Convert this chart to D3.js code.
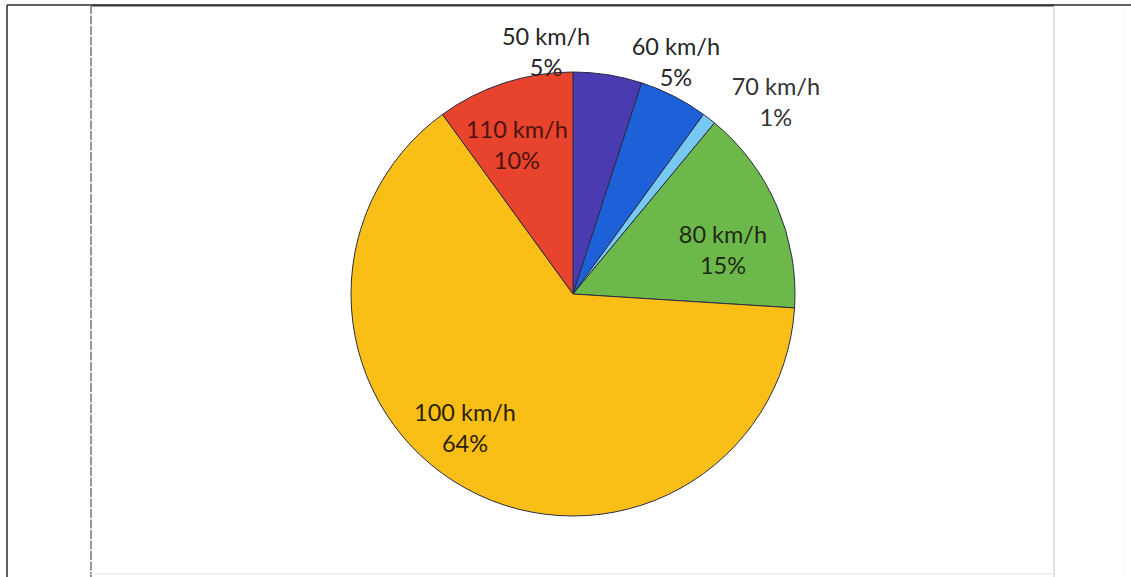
<!DOCTYPE html>
<html>
<head>
<meta charset="utf-8">
<script src="https://cdn.jsdelivr.net/npm/d3@7"></script>
<style>
  html, body { margin: 0; padding: 0; background: #fff; }
  svg { display: block; }
</style>
</head>
<body>
<svg id="chart" width="1131" height="577"></svg>
<script>
// Share of road length by speed limit
const categories = ["50 km/h", "60 km/h", "70 km/h", "80 km/h", "100 km/h", "110 km/h"];
const shares = [5, 5, 1, 15, 64, 10];
const percentLabels = ["5%", "5%", "1%", "15%", "64%", "10%"];
const sliceColors = ["#4b3bb0", "#1d60d7", "#78c8f4", "#6cb84a", "#f9bf17", "#e8432c"];
const labelColors = ["#262626", "#262626", "#333333", "#1f2a14", "#2a2208", "#4a1410"];

// label placement: angle shift from the slice middle (degrees) and radius as a fraction of the pie radius
const labelAngleShift = [-15.3, -3.3, 8.4, 6.2, 10.5, -2.4];
const labelRadiusFactor = [1.105, 1.153, 1.266, 0.707, 0.768, 0.725];

const svg = d3.select("#chart");
const W = 1131, H = 577;

// page frame
const frame = svg.append("g");
frame.append("line").attr("x1", 7).attr("y1", 5).attr("x2", W).attr("y2", 5)
  .attr("stroke", "#2b2b2b").attr("stroke-width", 1.5);
frame.append("line").attr("x1", 7).attr("y1", 5).attr("x2", 7).attr("y2", H)
  .attr("stroke", "#2b2b2b").attr("stroke-width", 1.5);

// chart area border
frame.append("line").attr("x1", 91).attr("y1", 5.5).attr("x2", 1054).attr("y2", 5.5)
  .attr("stroke", "#3a3a3a").attr("stroke-width", 2);
frame.append("line").attr("x1", 91).attr("y1", 5).attr("x2", 91).attr("y2", H)
  .attr("stroke", "#6f7482").attr("stroke-width", 1.5).attr("stroke-dasharray", "9,1.5");
frame.append("line").attr("x1", 1054).attr("y1", 6).attr("x2", 1054).attr("y2", H)
  .attr("stroke", "#d6d8de").attr("stroke-width", 1.5);
frame.append("line").attr("x1", 91).attr("y1", 574).attr("x2", 1054).attr("y2", 574)
  .attr("stroke", "#eeeeee").attr("stroke-width", 1.5);
frame.append("line").attr("x1", 1124).attr("y1", 6).attr("x2", 1124).attr("y2", H)
  .attr("stroke", "#f2f2f2").attr("stroke-width", 1);

const cx = 573, cy = 294, R = 222;

const pie = d3.pie().sort(null).value(d => d)(shares);
const arc = d3.arc().innerRadius(0).outerRadius(R);

const g = svg.append("g").attr("transform", `translate(${cx},${cy})`);

g.selectAll("path.slice")
  .data(pie)
  .join("path")
  .attr("class", "slice")
  .attr("d", arc)
  .attr("fill", (d, i) => sliceColors[i])
  .attr("stroke", "#2a2c45")
  .attr("stroke-width", 1)
  .attr("stroke-linejoin", "round");

// two-line labels: category and percentage
const labels = g.selectAll("text.lbl")
  .data(pie)
  .join("text")
  .attr("class", "lbl")
  .attr("text-anchor", "middle")
  .attr("font-family", "Lato, 'Open Sans', sans-serif")
  .attr("font-size", 23.5)
  .attr("fill", (d, i) => labelColors[i])
  .attr("transform", (d, i) => {
    const mid = (d.startAngle + d.endAngle) / 2 + labelAngleShift[i] * Math.PI / 180;
    const r = R * labelRadiusFactor[i];
    return `translate(${r * Math.sin(mid)},${-r * Math.cos(mid)})`;
  });

labels.append("tspan")
  .attr("x", 0)
  .attr("dy", "-0.21em")
  .text((d, i) => categories[i]);
labels.append("tspan")
  .attr("x", 0)
  .attr("dy", "1.33em")
  .text((d, i) => percentLabels[i]);
</script>
</body>
</html>
